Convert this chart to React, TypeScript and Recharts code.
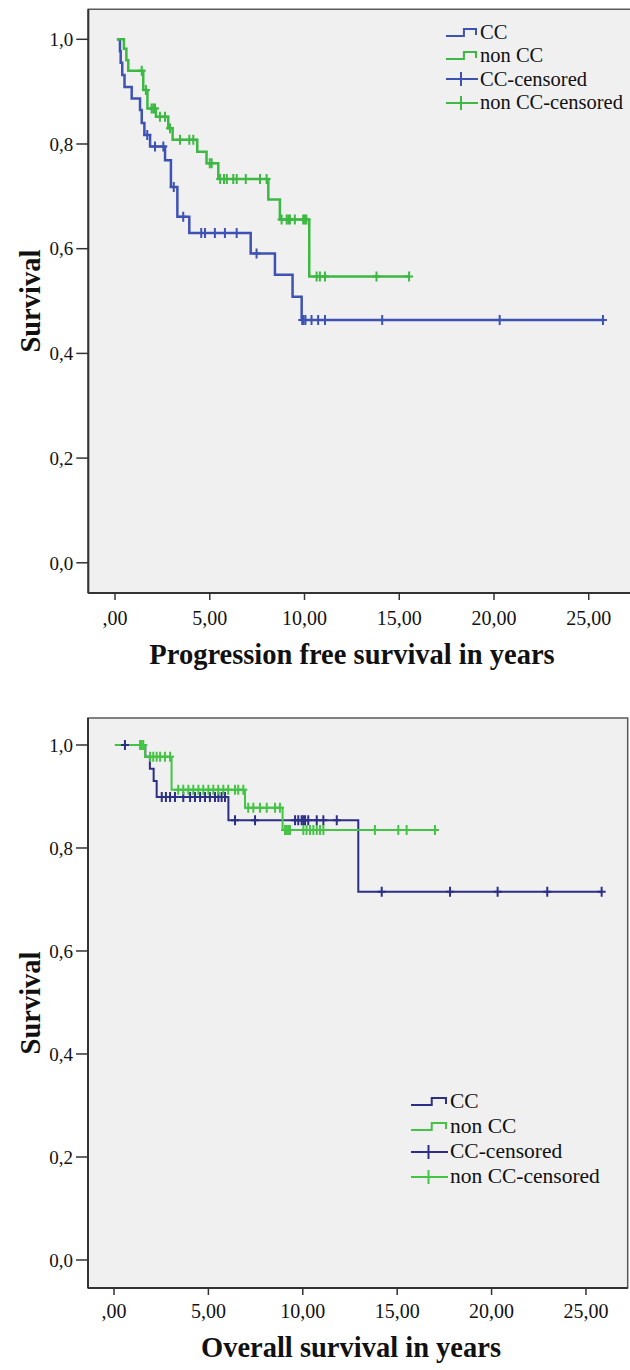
import {
  CartesianGrid,
  ComposedChart,
  Label,
  Legend,
  Line,
  ReferenceArea,
  Scatter,
  XAxis,
  YAxis,
} from "recharts";

const FONT = "'Liberation Serif', 'Times New Roman', serif";

const seriesNames = ["CC", "non CC", "CC-censored", "non CC-censored"];
const xTicks = [0, 5, 10, 15, 20, 25];
const yTicks = [0, 0.2, 0.4, 0.6, 0.8, 1];

// Progression free survival: event times (years) and survival after each step
const pfsCcTimes = [0.1, 0.26, 0.3, 0.38, 0.5, 0.88, 1.32, 1.41, 1.55, 1.85, 2.64, 2.95, 3.29, 3.92, 7.16, 8.44, 9.37, 9.85, 25.75];
const pfsCcSurvival = [1, 0.977, 0.955, 0.932, 0.909, 0.887, 0.865, 0.84, 0.817, 0.795, 0.769, 0.718, 0.661, 0.63, 0.591, 0.55, 0.508, 0.464, 0.464];
const pfsCcCensored = [1.7, 2.11, 2.55, 3.1, 3.6, 4.55, 4.75, 5.27, 5.8, 6.42, 7.47, 9.88, 9.95, 10.05, 10.37, 10.72, 11.08, 14.1, 20.3, 25.75];

const pfsNonCcTimes = [0.1, 0.47, 0.6, 0.7, 1.49, 1.71, 2.16, 2.81, 3.04, 4.34, 4.83, 5.45, 8.09, 8.7, 10.25, 15.52];
const pfsNonCcSurvival = [1, 0.982, 0.96, 0.94, 0.903, 0.868, 0.852, 0.83, 0.808, 0.785, 0.763, 0.733, 0.694, 0.656, 0.547, 0.547];
const pfsNonCcCensored = [1.41, 1.63, 1.93, 2.02, 2.11, 2.37, 2.64, 2.9, 3.43, 3.92, 4.13, 5.0, 5.1, 5.55, 5.75, 5.9, 6.24, 6.42, 6.9, 7.65, 8.0, 8.79, 9.06, 9.15, 9.23, 9.49, 9.93, 10.02, 10.1, 10.64, 10.81, 11.08, 13.8, 15.52];

// Overall survival
const osCcTimes = [0.05, 1.66, 1.9, 2.1, 2.26, 6.06, 12.94, 25.83];
const osCcSurvival = [1, 0.977, 0.954, 0.93, 0.899, 0.854, 0.715, 0.715];
const osCcCensored = [0.58, 2.53, 2.75, 2.97, 3.23, 3.67, 4.03, 4.29, 4.56, 4.82, 5.08, 5.35, 5.53, 5.7, 5.88, 6.41, 7.47, 9.59, 9.76, 9.94, 10.03, 10.12, 10.29, 10.74, 11.09, 11.8, 14.18, 17.8, 20.32, 22.95, 25.83];

const osNonCcTimes = [0.05, 1.64, 3.05, 6.94, 8.93, 17.0];
const osNonCcSurvival = [1, 0.977, 0.913, 0.878, 0.835, 0.835];
const osNonCcCensored = [1.38, 1.47, 1.55, 1.91, 2.08, 2.26, 2.44, 2.7, 2.97, 3.4, 3.67, 3.94, 4.2, 4.47, 4.73, 5.0, 5.26, 5.52, 5.79, 6.05, 6.41, 6.58, 6.85, 7.11, 7.38, 7.73, 8.09, 8.53, 8.79, 9.06, 9.15, 9.23, 9.32, 10.03, 10.2, 10.38, 10.56, 10.74, 10.91, 11.09, 13.82, 15.06, 15.5, 17.0];

type Point = { t: number; s: number };

function toSteps(times: number[], survival: number[]): Point[] {
  return times.map((t, i) => ({ t, s: survival[i] }));
}

// censored cases sit on the curve, so look up the step level at that time
function toCensors(censored: number[], times: number[], survival: number[]): Point[] {
  return censored.map((t) => {
    let s = survival[0];
    times.forEach((et, i) => {
      if (et <= t) s = survival[i];
    });
    return { t, s };
  });
}

const formatX = (v: number) => (v === 0 ? ",00" : v.toFixed(2).replace(".", ","));
const formatY = (v: number) => v.toFixed(1).replace(".", ",");

function censorShape(color: string, half: number) {
  return (props: any) => {
    const { cx, cy } = props;
    if (cx == null || cy == null) return <g />;
    return (
      <path
        d={`M${cx - half + 1},${cy}H${cx + half - 1}M${cx},${cy - half}V${cy + half}`}
        stroke={color}
        strokeWidth={2}
        fill="none"
      />
    );
  };
}

type KmChartProps = {
  top: number;
  width: number;
  height: number;
  marginTop: number;
  marginRight: number;
  yAxisWidth: number;
  xAxisHeight: number;
  xDomain: [number, number];
  yDomain: [number, number];
  xTickMargin: number;
  xTitle: string;
  xTitleX: number;
  xTitleBaseline: number;
  ccColor: string;
  nonCcColor: string;
  lineWidth: number;
  cc: Point[];
  nonCc: Point[];
  ccCensored: Point[];
  nonCcCensored: Point[];
  legendTop: number;
  legendLeft: number;
  legendIconWidth: number;
  legendRow: number;
  legendFont: number;
};

function LegendIcon({ kind, color, width }: { kind: "step" | "cross"; color: string; width: number }) {
  return (
    <svg width={width} height={16} style={{ display: "block", flex: "none" }}>
      {kind === "step" ? (
        <path d={`M0,11H${width * 0.56}V4H${width - 2}V10`} stroke={color} strokeWidth={2} fill="none" />
      ) : (
        <path d={`M0,8H${width}M${width / 2 - 1},1V15`} stroke={color} strokeWidth={2} fill="none" />
      )}
    </svg>
  );
}

function KmChart(p: KmChartProps) {
  const legendItems = [
    { kind: "step" as const, color: p.ccColor },
    { kind: "step" as const, color: p.nonCcColor },
    { kind: "cross" as const, color: p.ccColor },
    { kind: "cross" as const, color: p.nonCcColor },
  ];

  const renderLegend = () => (
    <div style={{ fontFamily: FONT, fontSize: p.legendFont, color: "#111" }}>
      {legendItems.map((item, i) => (
        <div key={seriesNames[i]} style={{ display: "flex", alignItems: "center", height: p.legendRow, whiteSpace: "nowrap" }}>
          <LegendIcon kind={item.kind} color={item.color} width={p.legendIconWidth} />
          <span style={{ marginLeft: 2, fontFamily: FONT }}>{seriesNames[i]}</span>
        </div>
      ))}
    </div>
  );

  return (
    <div style={{ position: "absolute", left: 0, top: p.top, fontFamily: FONT }}>
      <ComposedChart
        width={p.width}
        height={p.height}
        margin={{ top: p.marginTop, right: p.marginRight, bottom: 0, left: 0 }}
      >
        <CartesianGrid fill="#f0f0f0" horizontal={false} vertical={false} />
        <ReferenceArea
          x1={p.xDomain[0]}
          x2={p.xDomain[1]}
          y1={p.yDomain[0]}
          y2={p.yDomain[1]}
          fill="none"
          stroke="#5a5a5a"
          strokeWidth={1.5}
        />
        <XAxis
          type="number"
          dataKey="t"
          domain={p.xDomain}
          ticks={xTicks}
          allowDataOverflow
          height={p.xAxisHeight}
          tickFormatter={formatX}
          tickSize={7}
          tickMargin={p.xTickMargin}
          axisLine={{ stroke: "#333", strokeWidth: 2 }}
          tickLine={{ stroke: "#333", strokeWidth: 1.5 }}
          tick={{ fill: "#111", fontSize: 20, fontFamily: FONT }}
        >
          <Label
            content={() => (
              <text
                x={p.xTitleX}
                y={p.xTitleBaseline}
                textAnchor="middle"
                fontFamily={FONT}
                fontWeight="bold"
                fontSize={28.5}
                fill="#111"
              >
                {p.xTitle}
              </text>
            )}
          />
        </XAxis>
        <YAxis
          type="number"
          dataKey="s"
          domain={p.yDomain}
          ticks={yTicks}
          allowDataOverflow
          width={p.yAxisWidth}
          tickFormatter={formatY}
          tickSize={12}
          tickMargin={3}
          axisLine={{ stroke: "#333", strokeWidth: 2 }}
          tickLine={{ stroke: "#333", strokeWidth: 1.5 }}
          tick={{ fill: "#111", fontSize: 19, fontFamily: FONT }}
        >
          <Label
            content={(lp: any) => {
              const vb = lp.viewBox || { y: 0, height: 0 };
              const cy = vb.y + vb.height / 2;
              return (
                <text
                  x={40}
                  y={cy}
                  transform={`rotate(-90, 40, ${cy})`}
                  textAnchor="middle"
                  fontFamily={FONT}
                  fontWeight="bold"
                  fontSize={28.5}
                  fill="#111"
                >
                  Survival
                </text>
              );
            }}
          />
        </YAxis>
        <Legend
          layout="vertical"
          align="center"
          verticalAlign="middle"
          content={renderLegend}
          wrapperStyle={{ top: p.legendTop, left: p.legendLeft, width: 200, height: "auto" }}
        />
        <Line
          data={p.cc}
          dataKey="s"
          name={seriesNames[0]}
          type="stepAfter"
          stroke={p.ccColor}
          strokeWidth={p.lineWidth}
          dot={false}
          activeDot={false}
          isAnimationActive={false}
        />
        <Line
          data={p.nonCc}
          dataKey="s"
          name={seriesNames[1]}
          type="stepAfter"
          stroke={p.nonCcColor}
          strokeWidth={p.lineWidth}
          dot={false}
          activeDot={false}
          isAnimationActive={false}
        />
        <Scatter
          data={p.ccCensored}
          dataKey="s"
          name={seriesNames[2]}
          fill={p.ccColor}
          shape={censorShape(p.ccColor, 5)}
          isAnimationActive={false}
        />
        <Scatter
          data={p.nonCcCensored}
          dataKey="s"
          name={seriesNames[3]}
          fill={p.nonCcColor}
          shape={censorShape(p.nonCcColor, 5)}
          isAnimationActive={false}
        />
      </ComposedChart>
    </div>
  );
}

export default function App() {
  return (
    <div
      style={{
        position: "absolute",
        left: 0,
        top: 0,
        width: 630,
        height: 1370,
        overflow: "hidden",
        background: "#fff",
        fontFamily: FONT,
      }}
    >
      <KmChart
        top={0}
        width={640}
        height={680}
        marginTop={9.3}
        marginRight={9}
        yAxisWidth={88.3}
        xAxisHeight={87}
        xDomain={[-1.41, 27.23]}
        yDomain={[-0.0577, 1.0573]}
        xTickMargin={11}
        xTitle="Progression free survival in years"
        xTitleX={352}
        xTitleBaseline={664}
        ccColor="#3d52b3"
        nonCcColor="#3cb843"
        lineWidth={2.5}
        cc={toSteps(pfsCcTimes, pfsCcSurvival)}
        nonCc={toSteps(pfsNonCcTimes, pfsNonCcSurvival)}
        ccCensored={toCensors(pfsCcCensored, pfsCcTimes, pfsCcSurvival)}
        nonCcCensored={toCensors(pfsNonCcCensored, pfsNonCcTimes, pfsNonCcSurvival)}
        legendTop={21}
        legendLeft={446}
        legendIconWidth={32}
        legendRow={23.3}
        legendFont={20.5}
      />
      <KmChart
        top={700}
        width={630}
        height={670}
        marginTop={18}
        marginRight={2.3}
        yAxisWidth={88}
        xAxisHeight={82}
        xDomain={[-1.377, 27.21]}
        yDomain={[-0.0544, 1.0524]}
        xTickMargin={9}
        xTitle="Overall survival in years"
        xTitleX={351}
        xTitleBaseline={657}
        ccColor="#2c2f86"
        nonCcColor="#44c444"
        lineWidth={2}
        cc={toSteps(osCcTimes, osCcSurvival)}
        nonCc={toSteps(osNonCcTimes, osNonCcSurvival)}
        ccCensored={toCensors(osCcCensored, osCcTimes, osCcSurvival)}
        nonCcCensored={toCensors(osNonCcCensored, osNonCcTimes, osNonCcSurvival)}
        legendTop={389}
        legendLeft={411}
        legendIconWidth={37}
        legendRow={25}
        legendFont={21.5}
      />
    </div>
  );
}
